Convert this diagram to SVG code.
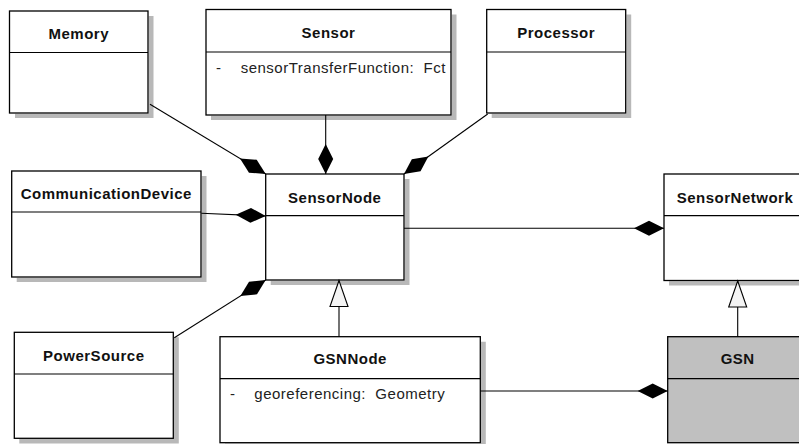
<svg xmlns="http://www.w3.org/2000/svg" width="799" height="444" viewBox="0 0 799 444">
<style>
.sh{fill:#b8b8b8}
.box{fill:#fff;stroke:#000;stroke-width:1.3}
.div{stroke:#000;stroke-width:1.2}
.t{font-family:"Liberation Sans",Arial,sans-serif;font-weight:bold;font-size:15px;letter-spacing:0.5px;text-anchor:middle;fill:#111}
.a{font-family:"Liberation Sans",Arial,sans-serif;font-size:15px;letter-spacing:0.5px;fill:#222}
.c{stroke:#000;stroke-width:1.1;fill:none}
</style>
<defs>
<marker id="comp" viewBox="-31 -8 32 16" refX="0" refY="0" markerWidth="32" markerHeight="16" markerUnits="userSpaceOnUse" orient="auto">
<path d="M0,0 L-15,-7.5 L-30,0 L-15,7.5 Z" fill="#000"/>
</marker>
<marker id="gen" viewBox="-28 -10 30 20" refX="0" refY="0" markerWidth="30" markerHeight="20" markerUnits="userSpaceOnUse" orient="auto">
<path d="M0,0 L-26,-9 L-26,9 Z" fill="#f4f4f4" stroke="#000" stroke-width="1.1"/>
</marker>
</defs>
<rect width="799" height="444" fill="#fff"/>

<g id="Memory">
<path class="sh" d="M148.7,16 H153.5 V118 H15 V113.7 H148.7 Z"/>
<rect class="box" x="9.5" y="11" width="138.5" height="102"/>
<line class="div" x1="9.5" y1="52.5" x2="148" y2="52.5"/>
<text class="t" x="78.8" y="39">Memory</text>
</g>

<g id="Sensor">
<path class="sh" d="M451.7,14.5 H456.5 V120 H211 V115.7 H451.7 Z"/>
<rect class="box" x="206" y="9.5" width="245" height="105.5"/>
<line class="div" x1="206" y1="52" x2="451" y2="52"/>
<text class="t" x="328.5" y="38">Sensor</text>
<text class="a" x="216" y="72.5">-</text>
<text class="a" x="240.7" y="72.5" xml:space="preserve">sensorTransferFunction:  Fct</text>
</g>

<g id="Processor">
<path class="sh" d="M626.4,14.5 H631.2 V118 H491.7 V113.7 H626.4 Z"/>
<rect class="box" x="486.7" y="9.5" width="139" height="103.5"/>
<line class="div" x1="486.7" y1="52" x2="625.7" y2="52"/>
<text class="t" x="556.2" y="38">Processor</text>
</g>

<g id="CommunicationDevice">
<path class="sh" d="M201.7,176 H206.5 V282 H16.7 V277.7 H201.7 Z"/>
<rect class="box" x="11.7" y="171" width="189.3" height="106"/>
<line class="div" x1="11.7" y1="212" x2="201" y2="212"/>
<text class="t" x="106.3" y="199.3">CommunicationDevice</text>
</g>

<g id="SensorNode">
<path class="sh" d="M404.7,179 H409.5 V285 H270.7 V280.7 H404.7 Z"/>
<rect class="box" x="265.7" y="174" width="138.3" height="106"/>
<line class="div" x1="265.7" y1="215.7" x2="404" y2="215.7"/>
<text class="t" x="334.8" y="203.3">SensorNode</text>
</g>

<g id="SensorNetwork">
<path class="sh" d="M669,281.2 H811 V285.5 H669 Z"/>
<rect class="box" x="664" y="174" width="142" height="106.5"/>
<line class="div" x1="664" y1="215.7" x2="806" y2="215.7"/>
<text class="t" x="735" y="203">SensorNetwork</text>
</g>

<g id="PowerSource">
<path class="sh" d="M174,337.3 H178.8 V443.5 H19.3 V439 H174 Z"/>
<rect class="box" x="14.3" y="332.3" width="159" height="106"/>
<line class="div" x1="14.3" y1="374" x2="173.3" y2="374"/>
<text class="t" x="93.8" y="361">PowerSource</text>
</g>

<g id="GSNNode">
<path class="sh" d="M481,341.7 H485.8 V448 H225 V443.4 H481 Z"/>
<rect class="box" x="220" y="336.7" width="260.3" height="106"/>
<line class="div" x1="220" y1="378.7" x2="480.3" y2="378.7"/>
<text class="t" x="350.2" y="364.3">GSNNode</text>
<text class="a" x="230" y="399">-</text>
<text class="a" x="254.3" y="399" xml:space="preserve">georeferencing:  Geometry</text>
</g>

<g id="GSN">
<rect class="box" x="667.7" y="336.7" width="140" height="106" style="fill:#c0c0c0"/>
<line class="div" x1="667.7" y1="378.7" x2="807.7" y2="378.7"/>
<text class="t" x="737.7" y="364.3">GSN</text>
</g>

<g id="connectors">
<line class="c" x1="150" y1="104.3" x2="265.7" y2="174" marker-end="url(#comp)"/>
<line class="c" x1="325.7" y1="115" x2="325.7" y2="174" marker-end="url(#comp)"/>
<line class="c" x1="487.7" y1="114" x2="404" y2="174" marker-end="url(#comp)"/>
<line class="c" x1="201.3" y1="213.3" x2="265.7" y2="216" marker-end="url(#comp)"/>
<line class="c" x1="174.3" y1="337.7" x2="265.7" y2="280" marker-end="url(#comp)"/>
<line class="c" x1="404" y1="228.3" x2="664" y2="228.3" marker-end="url(#comp)"/>
<line class="c" x1="480.3" y1="391" x2="667.7" y2="391" marker-end="url(#comp)"/>
<line class="c" x1="339" y1="336.7" x2="339" y2="280.5" marker-end="url(#gen)"/>
<line class="c" x1="737.7" y1="336.7" x2="737.7" y2="281" marker-end="url(#gen)"/>
</g>
</svg>
